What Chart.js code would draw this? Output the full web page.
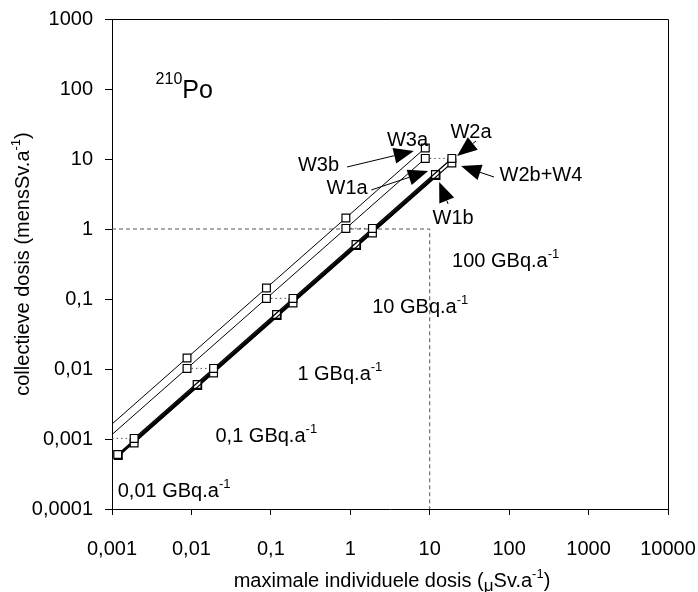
<!DOCTYPE html>
<html>
<head>
<meta charset="utf-8">
<script src="https://cdn.jsdelivr.net/npm/chart.js@4.4.0/dist/chart.umd.min.js"></script>
<style>
  html, body { margin: 0; padding: 0; background: #fff; }
  #wrap { width: 698px; height: 592px; }
</style>
</head>
<body>
<div id="wrap"><canvas id="myChart"></canvas></div>
<script>
// discharge levels (GBq.a-1), one point per level on every line
const levels = ['0,01', '0,1', '1', '10', '100'];

// maximale individuele dosis (x) and collectieve dosis (y) per scenario
const w3bX = [0.00088, 0.0088, 0.088, 0.88, 8.8];
const w3bY = [0.00144, 0.0144, 0.144, 1.44, 14.4];
const w3aX = [0.00088, 0.0088, 0.088, 0.88, 8.8];
const w3aY = [0.00102, 0.0102, 0.102, 1.02, 10.2];
const w2aX = [0.0019, 0.019, 0.19, 1.9, 19];
const w2aY = [0.00102, 0.0102, 0.102, 1.02, 10.2];
const w2bX = [0.0019, 0.019, 0.19, 1.9, 19];
const w2bY = [0.00088, 0.0088, 0.088, 0.88, 8.8];
const w1aX = [0.00118, 0.0118, 0.118, 1.18, 11.8];
const w1aY = [0.0006, 0.006, 0.06, 0.6, 6.0];
const w1bX = [0.0012, 0.012, 0.12, 1.2, 12];
const w1bY = [0.00058, 0.0058, 0.058, 0.58, 5.8];

// 10 µSv / 1 mensSv reference box
const refX = [0.001, 10, 10];
const refY = [1, 1, 0.0001];

const xTicks = [0.001, 0.01, 0.1, 1, 10, 100, 1000, 10000];
const xTickLabels = ['0,001', '0,01', '0,1', '1', '10', '100', '1000', '10000'];
const yTicks = [0.0001, 0.001, 0.01, 0.1, 1, 10, 100, 1000];
const yTickLabels = ['0,0001', '0,001', '0,01', '0,1', '1', '10', '100', '1000'];

const FONT = '"Liberation Sans", Arial, sans-serif';

// label positions in decades (log10 of the axis value)
const seriesNotes = [
  { text: 'W3b', at: [-0.40, 0.93], from: [-0.04, 0.886], to: [0.80, 1.114] },
  { text: 'W3a', at: [0.72, 1.28] },
  { text: 'W2a', at: [1.52, 1.40], from: [1.583, 1.257], to: [1.345, 1.043] },
  { text: 'W1a', at: [-0.04, 0.60], from: [0.264, 0.557], to: [0.98, 0.829] },
  { text: 'W2b+W4', at: [2.40, 0.786], from: [1.81, 0.743], to: [1.395, 0.90] },
  { text: 'W1b', at: [1.294, 0.171], from: [1.232, 0.357], to: [1.119, 0.671] }
];
const levelNotes = [
  [1.282, -0.543], [0.276, -1.20], [-0.666, -2.157], [-1.697, -3.043], [-2.928, -3.829]
];

function pts(xs, ys) {
  return xs.map((x, i) => ({ x: x, y: ys[i] }));
}

function seriesSet(label, xs, ys, width) {
  return {
    label: label,
    data: pts(xs, ys),
    borderColor: '#000',
    borderWidth: width,
    pointStyle: 'rect',
    pointRadius: 5.5,
    pointBorderWidth: 1.2,
    pointBackgroundColor: '#fff',
    pointBorderColor: '#000',
    tension: 0,
    clip: 0
  };
}

const datasets = [
  seriesSet('W3b', w3bX, w3bY, 1),
  seriesSet('W3a', w3aX, w3aY, 1),
  seriesSet('W2a', w2aX, w2aY, 1.3),
  seriesSet('W2b+W4', w2bX, w2bY, 1.3),
  seriesSet('W1a', w1aX, w1aY, 1.3),
  seriesSet('W1b', w1bX, w1bY, 2.2)
];

// dotted links between the W3a and W2a points of one level
levels.forEach((lvl, i) => {
  datasets.push({
    label: lvl + ' GBq',
    data: [{ x: w3aX[i], y: w3aY[i] }, { x: w2aX[i], y: w2aY[i] }],
    borderColor: '#555',
    borderWidth: 1,
    borderDash: [1.5, 3],
    pointRadius: 0,
    clip: 0
  });
});

datasets.push({
  label: 'ref',
  data: pts(refX, refY),
  borderColor: '#555',
  borderWidth: 1,
  borderDash: [4, 3],
  pointRadius: 0,
  clip: 0
});

// draws mixed text runs: [text, size, rise]
function drawRich(ctx, parts, x, y, align) {
  let w = 0;
  parts.forEach(p => {
    ctx.font = p[1] + 'px ' + FONT;
    w += ctx.measureText(p[0]).width;
  });
  let cx = align === 'center' ? x - w / 2 : x;
  ctx.textAlign = 'left';
  ctx.textBaseline = 'alphabetic';
  parts.forEach(p => {
    ctx.font = p[1] + 'px ' + FONT;
    ctx.fillText(p[0], cx, y - p[2]);
    cx += ctx.measureText(p[0]).width;
  });
}

function drawArrow(ctx, x1, y1, x2, y2) {
  const ang = Math.atan2(y2 - y1, x2 - x1);
  const len = 20, half = 8;
  const bx = x2 - len * Math.cos(ang), by = y2 - len * Math.sin(ang);
  ctx.beginPath();
  ctx.moveTo(x1, y1);
  ctx.lineTo(bx, by);
  ctx.stroke();
  ctx.beginPath();
  ctx.moveTo(x2, y2);
  ctx.lineTo(bx + half * Math.sin(ang), by - half * Math.cos(ang));
  ctx.lineTo(bx - half * Math.sin(ang), by + half * Math.cos(ang));
  ctx.closePath();
  ctx.fill();
}

const decor = {
  id: 'decor',
  afterDraw(chart) {
    const ctx = chart.ctx;
    const a = chart.chartArea;
    const xs = chart.scales.x, ys = chart.scales.y;
    const px = l => xs.getPixelForValue(Math.pow(10, l));
    const py = l => ys.getPixelForValue(Math.pow(10, l));
    ctx.save();
    ctx.strokeStyle = '#000';
    ctx.fillStyle = '#000';
    ctx.lineWidth = 1;

    // frame top and right
    ctx.beginPath();
    ctx.moveTo(a.left, a.top + 0.5);
    ctx.lineTo(a.right + 0.5, a.top + 0.5);
    ctx.lineTo(a.right + 0.5, a.bottom);
    ctx.stroke();

    // nuclide tag
    drawRich(ctx, [['210', 16, 14], ['Po', 25, 0]], px(-2.451), py(1.871), 'left');

    // scenario labels with arrows
    seriesNotes.forEach(n => {
      drawRich(ctx, [[n.text, 20, 0]], px(n.at[0]), py(n.at[1]) + 7, 'center');
      if (n.from) drawArrow(ctx, px(n.from[0]), py(n.from[1]), px(n.to[0]), py(n.to[1]));
    });

    // discharge level labels
    const lv = levels.slice().reverse();
    levelNotes.forEach((p, i) => {
      drawRich(ctx, [[lv[i] + ' GBq.a', 20, 0], ['-1', 13, 9]], px(p[0]), py(p[1]), 'left');
    });

    // axis titles
    drawRich(ctx, [['maximale individuele dosis (', 20, 0], ['\u03bc', 17, -4], ['Sv.a', 20, 0], ['-1', 13, 9], [')', 20, 0]],
      (a.left + a.right) / 2 + 2, 587, 'center');
    ctx.translate(29, (a.top + a.bottom) / 2);
    ctx.rotate(-Math.PI / 2);
    drawRich(ctx, [['collectieve dosis (mensSv.a', 20, 0], ['-1', 13, 9], [')', 20, 0]], 0, 0, 'center');
    ctx.restore();
  }
};

Chart.defaults.font.family = FONT;
Chart.defaults.font.size = 20;
Chart.defaults.color = '#000';

const context = document.getElementById('myChart').getContext('2d');
const myChart = new Chart(context, {
  type: 'line',
  data: { datasets: datasets },
  options: {
    responsive: true,
    maintainAspectRatio: false,
    animation: false,
    layout: { padding: { top: 19, right: 30, left: 0, bottom: 0 } },
    scales: {
      x: {
        type: 'logarithmic',
        min: 0.001,
        max: 10000,
        afterBuildTicks: s => { s.ticks = xTicks.map(v => ({ value: v })); },
        afterFit: s => { s.height = 83; s.paddingLeft = 0; s.paddingRight = 0; },
        ticks: {
          callback: (v, i) => xTickLabels[i],
          maxRotation: 0,
          autoSkip: false,
          padding: 22,
          color: '#000'
        },
        grid: { drawOnChartArea: false, tickLength: 6, color: '#000' },
        border: { color: '#000', width: 1 }
      },
      y: {
        type: 'logarithmic',
        min: 0.0001,
        max: 1000,
        afterBuildTicks: s => { s.ticks = yTicks.map(v => ({ value: v })); },
        afterFit: s => { s.width = 112; s.paddingTop = 0; s.paddingBottom = 0; },
        ticks: {
          callback: (v, i) => yTickLabels[i],
          autoSkip: false,
          padding: 12,
          color: '#000'
        },
        grid: { drawOnChartArea: false, tickLength: 7, color: '#000' },
        border: { color: '#000', width: 1 }
      }
    },
    plugins: {
      legend: { display: false },
      tooltip: { enabled: false }
    }
  },
  plugins: [decor]
});
</script>
</body>
</html>
